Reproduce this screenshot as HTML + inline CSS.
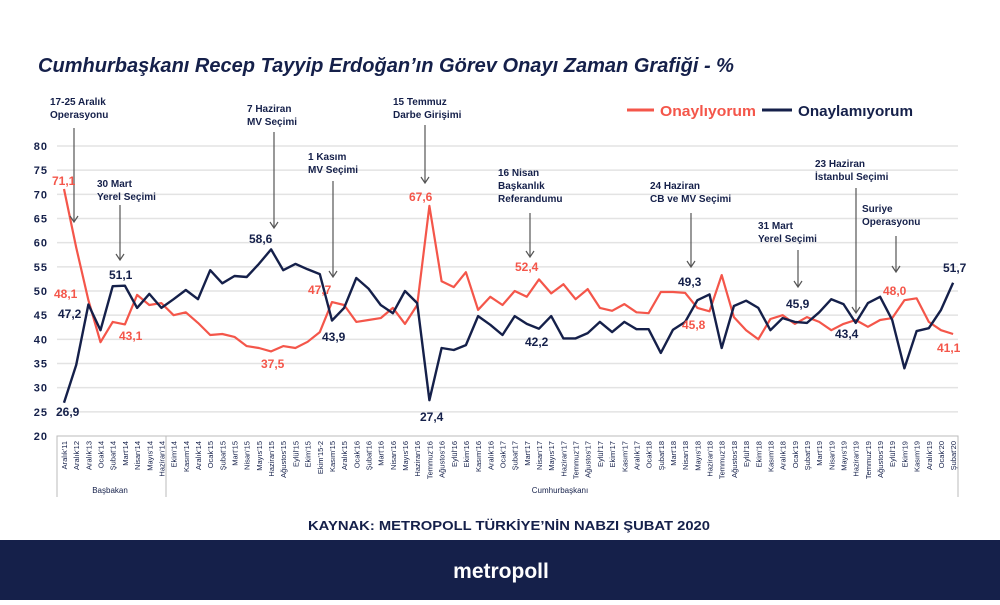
<!DOCTYPE html>
<html><head><meta charset="utf-8"><style>
body{margin:0;width:1000px;height:600px;background:#fff;overflow:hidden;font-family:"Liberation Sans",sans-serif}
</style></head><body>
<svg id="s" width="1000" height="600" xmlns="http://www.w3.org/2000/svg" font-family="Liberation Sans, sans-serif">
<text x="38" y="72" font-size="20" font-weight="bold" font-style="italic" fill="#15204a" textLength="696" lengthAdjust="spacingAndGlyphs">Cumhurbaşkanı Recep Tayyip Erdoğan’ın Görev Onayı Zaman Grafiği - %</text>
<g id="grid"></g>
<g id="xl" font-size="7.5" fill="#15204a"></g>
<rect x="0" y="540" width="1000" height="60" fill="#15204a"/>
<text x="501" y="578" text-anchor="middle" font-size="21" font-weight="bold" fill="#fff">metropoll</text>
<text x="308" y="530" font-size="13" font-weight="bold" fill="#15204a" textLength="402" lengthAdjust="spacingAndGlyphs">KAYNAK: METROPOLL TÜRKİYE’NİN NABZI ŞUBAT 2020</text>
<line x1="627" y1="110" x2="654" y2="110" stroke="#f4564a" stroke-width="3"/>
<text x="660" y="116" font-size="15" font-weight="bold" fill="#f4564a" textLength="96" lengthAdjust="spacingAndGlyphs">Onaylıyorum</text>
<line x1="762" y1="110" x2="792" y2="110" stroke="#15204a" stroke-width="3"/>
<text x="798" y="116" font-size="15" font-weight="bold" fill="#15204a" textLength="115" lengthAdjust="spacingAndGlyphs">Onaylamıyorum</text>
<text x="110" y="493" font-size="8" fill="#15204a" text-anchor="middle">Başbakan</text>
<text x="560" y="493" font-size="8" fill="#15204a" text-anchor="middle">Cumhurbaşkanı</text>
<g id="ser"></g>
<g id="ann" font-size="10" font-weight="bold" fill="#15204a"></g>
<g font-size="12" font-weight="bold">
<text x="52" y="185" fill="#f4564a">71,1</text>
<text x="54" y="298" fill="#f4564a">48,1</text>
<text x="58" y="318" fill="#15204a">47,2</text>
<text x="56" y="416" fill="#15204a">26,9</text>
<text x="109" y="279" fill="#15204a">51,1</text>
<text x="119" y="340" fill="#f4564a">43,1</text>
<text x="249" y="243" fill="#15204a">58,6</text>
<text x="261" y="368" fill="#f4564a">37,5</text>
<text x="308" y="294" fill="#f4564a">47,7</text>
<text x="322" y="341" fill="#15204a">43,9</text>
<text x="409" y="201" fill="#f4564a">67,6</text>
<text x="420" y="421" fill="#15204a">27,4</text>
<text x="515" y="271" fill="#f4564a">52,4</text>
<text x="525" y="346" fill="#15204a">42,2</text>
<text x="678" y="286" fill="#15204a">49,3</text>
<text x="682" y="329" fill="#f4564a">45,8</text>
<text x="786" y="308" fill="#15204a">45,9</text>
<text x="835" y="338" fill="#15204a">43,4</text>
<text x="883" y="295" fill="#f4564a">48,0</text>
<text x="943" y="272" fill="#15204a">51,7</text>
<text x="937" y="352" fill="#f4564a">41,1</text>
</g>
</svg>
<script>
var NS="http://www.w3.org/2000/svg";
function el(p,t,a,txt){var e=document.createElementNS(NS,t);for(var k in a)e.setAttribute(k,a[k]);if(txt!=null)e.textContent=txt;document.getElementById(p).appendChild(e);return e;}
function Y(v){return 436-(v-20)*4.833;}
function X(i){return 64+12.18*i;}
for(var v=20;v<=80;v+=5){var y=Y(v);if(v>20)el("grid","line",{x1:57,y1:y,x2:958,y2:y,stroke:"#e3e3e3","stroke-width":1.5});
el("grid","text",{x:48,y:y+4,"font-size":11,"font-weight":"bold",fill:"#15204a","text-anchor":"end","letter-spacing":"1"},String(v));}
el("grid","path",{d:"M57,497V436H958V497M166,436V497",fill:"none",stroke:"#bbb","stroke-width":1});
var L=["Aralık'11","Aralık'12","Aralık'13","Ocak'14","Şubat'14","Mart'14","Nisan'14","Mayıs'14","Haziran'14","Ekim'14","Kasım'14","Aralık'14","Ocak'15","Şubat'15","Mart'15","Nisan'15","Mayıs'15","Haziran'15","Ağustos'15","Eylül'15","Ekim'15","Ekim'15-2","Kasım'15","Aralık'15"];
var M=["Ocak","Şubat","Mart","Nisan","Mayıs","Haziran","Temmuz","Ağustos","Eylül","Ekim","Kasım","Aralık"];
for(var yy=16;yy<=19;yy++)M.forEach(function(m){L.push(m+"'"+yy)});L.push("Ocak'20","Şubat'20");
L.forEach(function(t,i){var x=X(i)+3;el("xl","text",{x:x,y:441,transform:"rotate(-90 "+x+" 441)","text-anchor":"end"},t);});
var R=[71.1,59,48.1,39.4,43.6,43.1,49.2,47.1,47.5,45,45.6,43.4,40.9,41.1,40.5,38.6,38.2,37.5,38.6,38.2,39.5,41.5,47.7,47.1,43.6,44,44.4,46.5,43.2,47.1,67.6,52,50.8,53.9,46.1,48.8,47.1,50,48.8,52.4,49.5,51.4,48.3,50.4,46.5,45.9,47.3,45.6,45.4,49.8,49.8,49.6,46.5,45.8,53.3,44.6,41.9,40,44.2,45,43.2,44.6,43.6,41.9,43.2,44,42.6,44,44.4,48.1,48.5,43.6,41.9,41.1];
var B=[26.9,34.7,47.2,41.9,51,51.1,46.5,49.4,46.5,48.3,50.2,48.3,54.3,51.6,53.1,52.9,55.6,58.6,54.3,55.6,54.5,53.5,43.9,46.5,52.7,50.5,47.1,45.4,50,47.5,27.4,38.2,37.8,38.8,44.8,43,40.9,44.8,43.2,42.2,44.8,40.2,40.2,41.3,43.6,41.5,43.6,42.1,42.1,37.2,42,43.6,48.1,49.3,38.2,46.9,48,46.5,41.9,44.4,43.6,43.4,45.6,48.3,47.3,43.4,47.5,48.8,44,34,41.7,42.3,46.1,51.7];
function pts(a){return a.map(function(v,i){return X(i).toFixed(1)+","+Y(v).toFixed(1)}).join(" ");}
el("ser","polyline",{points:pts(R),fill:"none",stroke:"#f4564a","stroke-width":2.2,"stroke-linejoin":"round"});
el("ser","polyline",{points:pts(B),fill:"none",stroke:"#15204a","stroke-width":2.4,"stroke-linejoin":"round"});
var A=[[50,105,["17-25 Aralık","Operasyonu"],74,128,222],[97,187,["30 Mart","Yerel Seçimi"],120,205,260],[247,112,["7 Haziran","MV Seçimi"],274,132,228],[308,160,["1 Kasım","MV Seçimi"],333,181,277],[393,105,["15 Temmuz","Darbe Girişimi"],425,125,183],[498,176,["16 Nisan","Başkanlık","Referandumu"],530,213,257],[650,189,["24 Haziran","CB  ve MV Seçimi"],691,213,267],[758,229,["31 Mart","Yerel Seçimi"],798,250,287],[815,167,["23 Haziran","İstanbul Seçimi"],856,188,313],[862,212,["Suriye","Operasyonu"],896,236,272]];
A.forEach(function(a){a[2].forEach(function(t,j){el("ann","text",{x:a[0],y:a[1]+j*13},t);});
el("ann","path",{d:"M"+a[3]+","+a[4]+"V"+a[5]+"M"+(a[3]-4)+","+(a[5]-6)+"L"+a[3]+","+a[5]+"L"+(a[3]+4)+","+(a[5]-6),fill:"none",stroke:"#555","stroke-width":1.2});});
</script>
</body></html>
